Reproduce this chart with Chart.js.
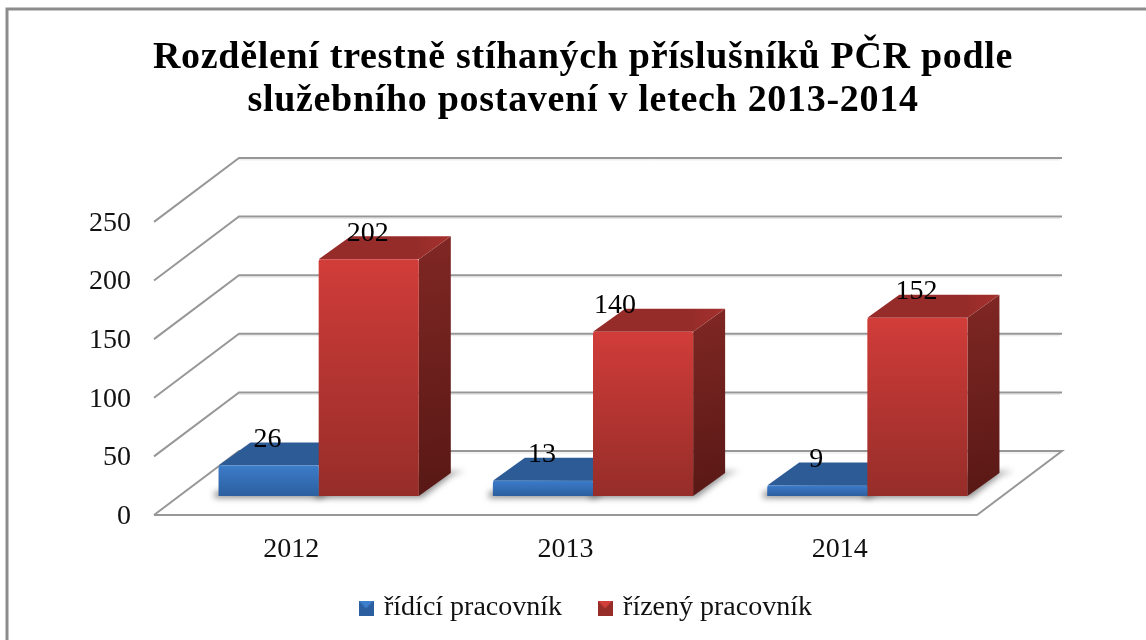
<!DOCTYPE html>
<html><head><meta charset="utf-8">
<style>html,body{margin:0;padding:0;background:#fff}canvas{display:block}</style>
<script src="https://cdn.jsdelivr.net/npm/chart.js@4"></script>
</head><body>
<div style="width:1146px;height:640px"><canvas id="c" width="1146" height="640"></canvas></div>
<script>
const titleLines = ['Rozdělení trestně stíhaných příslušníků PČR podle', 'služebního postavení v letech 2013-2014'];
const categories = ['2012', '2013', '2014'];
const seriesNames = ['řídící pracovník', 'řízený pracovník'];
const ridici = [26, 13, 9];
const rizeny = [202, 140, 152];

const FONT = '"Liberation Serif"';
const DX = 85, DY = 64;            // wall depth
const BX = 27.5, BY = -19;         // bar row offset on the floor
const SX = 32, SY = 23;            // bar depth
const palettes = [
  {front:['#3d7fcd','#3a78c4','#2c5f9f'], top:'#2c5b95', topHi:'#2f6099', sideA:'#27507f', sideB:'#1d3d63'},
  {front:['#d23e3a','#c93a37','#962d29'], top:'#962c29', topHi:'#a5312e', sideA:'#802724', sideB:'#581815'}
];

function icon(p){
  const c=document.createElement('canvas'); c.width=15; c.height=15;
  const g=c.getContext('2d');
  const tri=(col,pts)=>{g.fillStyle=col;g.beginPath();pts.forEach((q,i)=>i?g.lineTo(q[0],q[1]):g.moveTo(q[0],q[1]));g.closePath();g.fill();};
  tri(p.front[2],[[0,0],[15,0],[15,15],[0,15]]);
  tri(p.front[0],[[0,0],[15,0],[7.5,8]]);
  tri(p.front[2],[[0,15],[15,15],[7.5,8]]);
  return c;
}
const icons = palettes.map(icon);

function faceGradient(context){
  const chart=context.chart, p=palettes[context.datasetIndex];
  const y=chart.scales.y;
  if(!y || typeof context.raw!=='number') return p.front[1];
  const top=y.getPixelForValue(context.raw), base=y.getPixelForValue(0);
  if(!isFinite(top)||!isFinite(base)) return p.front[1];
  const g=chart.ctx.createLinearGradient(0,top,0,base);
  g.addColorStop(0,p.front[0]); g.addColorStop(0.12,p.front[1]); g.addColorStop(1,p.front[2]);
  return g;
}

function wrapTitle(block){
  if(block._wrapped) return;
  const orig=block.draw;
  block.draw=function(...a){
    const ctx=this.ctx, prev=ctx.letterSpacing;
    ctx.letterSpacing='0.7px';
    orig.apply(this,a);
    ctx.letterSpacing=prev;
  };
  block._wrapped=true;
}
function wrapShift(block,method,dx,dy){
  if(block._wrapped) return;
  const orig=block[method];
  block[method]=function(...a){
    this.ctx.save();
    this.ctx.translate(dx,dy);
    orig.apply(this,a);
    this.ctx.restore();
  };
  block._wrapped=true;
}

const scene = {
  id:'scene',
  beforeDraw(chart){
    const ctx=chart.ctx, a=chart.chartArea, y=chart.scales.y;
    wrapTitle(chart.titleBlock);
    wrapShift(chart.legend,'draw',4,-6);
    wrapShift(chart.scales.y,'drawLabels',0,1.5);
    ctx.save();
    // frame
    ctx.strokeStyle='#8c8c8c'; ctx.lineWidth=3;
    ctx.beginPath(); ctx.moveTo(1146,9); ctx.lineTo(7,9); ctx.lineTo(7,640); ctx.stroke();
    // walls
    ctx.lineCap='butt';
    y.ticks.forEach(t=>{
      const py=y.getPixelForValue(t.value);
      ctx.strokeStyle='#e6e6e6'; ctx.lineWidth=1;
      ctx.beginPath(); ctx.moveTo(a.left+DX,py-DY+2); ctx.lineTo(a.right+DX-2,py-DY+2); ctx.stroke();
      ctx.strokeStyle='#979797'; ctx.lineWidth=2;
      ctx.beginPath(); ctx.moveTo(a.left,py); ctx.lineTo(a.left+DX,py-DY); ctx.lineTo(a.right+DX,py-DY);
      if(t.value===0){ ctx.lineTo(a.right,py); ctx.lineTo(a.left,py); }
      ctx.stroke();
    });
    ctx.restore();
  },
  beforeDatasetsDraw(chart){
    const ctx=chart.ctx;
    ctx.save();
    ctx.filter='blur(3px)';
    ctx.fillStyle='rgba(70,70,70,0.6)';
    chart.data.datasets.forEach((d,i)=>{
      chart.getDatasetMeta(i).data.forEach(el=>{
        const l=el.x-el.width/2+BX, r=el.x+el.width/2+BX, b=el.base+BY;
        ctx.beginPath();
        ctx.moveTo(l-4,b+2); ctx.lineTo(r+3,b+2); ctx.lineTo(r+SX+1,b-SY+2); ctx.lineTo(r+SX+14,b-SY-2); ctx.lineTo(r,b-SY); ctx.lineTo(l-4,b-4);
        ctx.closePath(); ctx.fill();
      });
    });
    ctx.restore();
    // bar sides and tops, blue row first so the red row covers it
    ctx.save();
    ctx.translate(BX,BY);
    chart.data.datasets.forEach((d,i)=>{
      const p=palettes[i];
      chart.getDatasetMeta(i).data.forEach(el=>{
        const l=el.x-el.width/2, r=el.x+el.width/2, t=el.y, b=el.base;
        const side=ctx.createLinearGradient(r,t-SY,r+SX,b);
        side.addColorStop(0,p.sideA); side.addColorStop(1,p.sideB);
        ctx.fillStyle=side;
        ctx.beginPath(); ctx.moveTo(r,t); ctx.lineTo(r+SX,t-SY); ctx.lineTo(r+SX,b-SY); ctx.lineTo(r,b); ctx.closePath(); ctx.fill();
        const top=ctx.createLinearGradient(l,0,r+SX,0);
        top.addColorStop(0,p.top); top.addColorStop(0.75,p.top); top.addColorStop(1,p.topHi);
        ctx.fillStyle=top;
        ctx.beginPath(); ctx.moveTo(l,t); ctx.lineTo(l+SX,t-SY); ctx.lineTo(r+SX,t-SY); ctx.lineTo(r,t); ctx.closePath(); ctx.fill();
      });
    });
    ctx.restore();
  },
  beforeDatasetDraw(chart){
    chart.ctx.save();
    chart.ctx.translate(BX,BY);
  },
  afterDatasetDraw(chart){ chart.ctx.restore(); },
  afterDatasetsDraw(chart){
    const ctx=chart.ctx;
    ctx.save();
    ctx.fillStyle='#000'; ctx.font='28px '+FONT; ctx.textAlign='center'; ctx.textBaseline='middle';
    chart.data.datasets.forEach((d,i)=>{
      chart.getDatasetMeta(i).data.forEach((el,j)=>{
        const shift=(i===1&&j===1)?-28:-1;
        ctx.fillText(String(d.data[j]), el.x+BX+shift, el.y+BY-26);
      });
    });
    ctx.restore();
  }
};

new Chart(document.getElementById('c'),{
  type:'bar',
  data:{labels:categories,datasets:[
    {label:seriesNames[0],data:ridici,backgroundColor:faceGradient,clip:false,borderRadius:2,categoryPercentage:0.73,barPercentage:1},
    {label:seriesNames[1],data:rizeny,backgroundColor:faceGradient,clip:false,borderRadius:2,categoryPercentage:0.73,barPercentage:1}
  ]},
  plugins:[scene],
  options:{
    responsive:false,animation:false,
    layout:{padding:{left:20,right:0,top:0,bottom:2}},
    plugins:{
      tooltip:{enabled:false},
      title:{display:true,text:titleLines,color:'#000',align:'center',
        font:{family:FONT,size:38,weight:'bold',lineHeight:1.13},padding:{top:37,bottom:99}},
      legend:{position:'bottom',align:'center',
        labels:{color:'#111',font:{family:FONT,size:28},padding:39,boxWidth:8,boxHeight:15,usePointStyle:true,pointStyleWidth:8,
          generateLabels(chart){
            const items=Chart.defaults.plugins.legend.labels.generateLabels(chart);
            items.forEach(it=>{it.pointStyle=icons[it.datasetIndex];});
            return items;
          }}}
    },
    scales:{
      x:{grid:{display:false,drawTicks:false},border:{display:false},
        ticks:{color:'#111',font:{family:FONT,size:28},padding:18,maxRotation:0,autoSkip:false},
        afterFit(s){s.height=46;}},
      y:{min:0,max:250,grid:{display:false,drawTicks:false},border:{display:false},
        ticks:{stepSize:50,color:'#111',font:{family:FONT,size:28},padding:23},
        afterFit(s){s.width=134;}},
      pad:{position:'right',grid:{display:false,drawTicks:false},border:{display:false},
        ticks:{display:false},afterFit(s){s.width=169;}}
    }
  }
});
</script>
</body></html>
